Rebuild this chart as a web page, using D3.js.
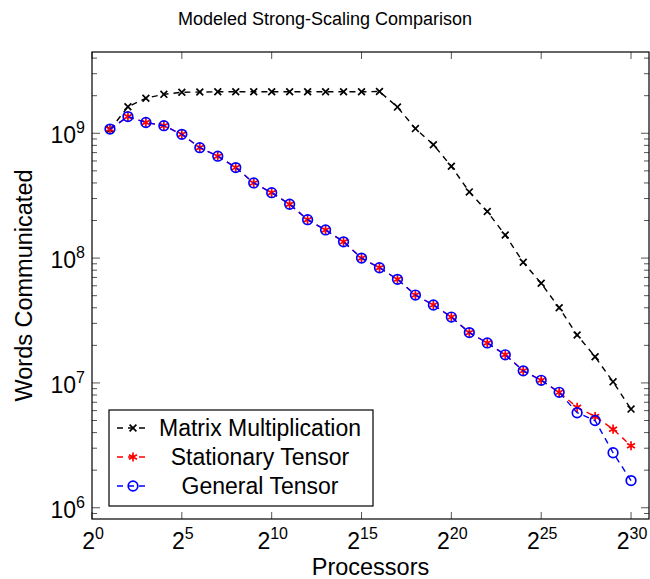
<!DOCTYPE html>
<meta charset="utf-8">
<script src="https://d3js.org/d3.v7.min.js"></script>
<style>
  body { margin: 0; background: #fff; }
  text { font-family: "Liberation Sans", Arial, Helvetica, sans-serif; fill: #000; }
</style>
<div id="chart"></div>
<script>

    // exponents of the processor counts (2^p)
    var procExp = [1, 2, 3, 4, 5, 6, 7, 8, 9, 10, 11, 12, 13, 14, 15,
                   16, 17, 18, 19, 20, 21, 22, 23, 24, 25, 26, 27, 28, 29, 30]

    // words communicated
    var matrixMult = [1.07e9, 1.63e9, 1.91e9, 2.05e9, 2.13e9, 2.14e9, 2.15e9, 2.15e9, 2.15e9, 2.15e9,
                      2.15e9, 2.15e9, 2.15e9, 2.15e9, 2.15e9, 2.16e9, 1.62e9, 1.09e9, 8.1e8, 5.44e8,
                      3.39e8, 2.36e8, 1.53e8, 9.25e7, 6.28e7, 4.0e7, 2.42e7, 1.62e7, 1.02e7, 6.17e6]
    var stationary = [1.08e9, 1.36e9, 1.22e9, 1.15e9, 9.8e8, 7.67e8, 6.55e8, 5.31e8, 4.0e8, 3.34e8,
                      2.70e8, 2.03e8, 1.68e8, 1.35e8, 1.0e8, 8.37e7, 6.76e7, 5.06e7, 4.21e7, 3.37e7,
                      2.53e7, 2.09e7, 1.68e7, 1.25e7, 1.05e7, 8.41e6, 6.37e6, 5.38e6, 4.26e6, 3.14e6]
    var general = [1.08e9, 1.36e9, 1.22e9, 1.15e9, 9.8e8, 7.67e8, 6.55e8, 5.31e8, 4.0e8, 3.34e8,
                   2.70e8, 2.03e8, 1.68e8, 1.35e8, 1.0e8, 8.37e7, 6.76e7, 5.06e7, 4.21e7, 3.37e7,
                   2.53e7, 2.09e7, 1.68e7, 1.25e7, 1.05e7, 8.41e6, 5.77e6, 5.0e6, 2.76e6, 1.65e6]

    var seriesNames = ["Matrix Multiplication", "Stationary Tensor", "General Tensor"]
    var xTickExp = [0, 5, 10, 15, 20, 25, 30]
    var yTickExp = [6, 7, 8, 9]

    var W = 650, H = 579
    var margin = {top: 52, right: 1, bottom: 60, left: 92}
    var width = W - margin.left - margin.right,
        height = H - margin.top - margin.bottom

    var svg = d3.select("#chart").append("svg")
        .attr("width", W).attr("height", H)

    var g = svg.append("g")
        .attr("transform", "translate(" + margin.left + "," + margin.top + ")")

    // scales
    var x = d3.scaleLinear().domain([0, 31]).range([0, width])
    var y = d3.scaleLog().domain([Math.pow(10, 5.91), Math.pow(10, 9.651)]).range([height, 0])

    // ---- ticks (inward, on all four sides) ----
    var tickCol = "#555"
    xTickExp.forEach(function(e) {
        g.append("line").attr("x1", x(e)).attr("x2", x(e)).attr("y1", height).attr("y2", height - 7)
            .attr("stroke", tickCol).attr("stroke-width", 1)
        g.append("line").attr("x1", x(e)).attr("x2", x(e)).attr("y1", 0).attr("y2", 7)
            .attr("stroke", tickCol).attr("stroke-width", 1)
        var t = g.append("text")
            .attr("x", x(e) + 1).attr("y", height + 30)
            .attr("text-anchor", "middle")
            .style("font-size", "23px")
        t.append("tspan").text("2")
        t.append("tspan").attr("dy", -10).style("font-size", "16px").text(e)
    })

    // minor and major ticks on the log axis
    var yMinor = []
    for (var d = 5; d <= 9; d++) {
        for (var k = 2; k <= 9; k++) {
            var v = k * Math.pow(10, d)
            if (v >= y.domain()[0] && v <= y.domain()[1]) yMinor.push(v)
        }
    }
    yMinor.forEach(function(v) {
        g.append("line").attr("x1", 0).attr("x2", 5).attr("y1", y(v)).attr("y2", y(v))
            .attr("stroke", tickCol).attr("stroke-width", 1)
        g.append("line").attr("x1", width).attr("x2", width - 5).attr("y1", y(v)).attr("y2", y(v))
            .attr("stroke", tickCol).attr("stroke-width", 1)
    })
    yTickExp.forEach(function(e) {
        var v = Math.pow(10, e)
        g.append("line").attr("x1", 0).attr("x2", 8).attr("y1", y(v)).attr("y2", y(v))
            .attr("stroke", tickCol).attr("stroke-width", 1)
        g.append("line").attr("x1", width).attr("x2", width - 8).attr("y1", y(v)).attr("y2", y(v))
            .attr("stroke", tickCol).attr("stroke-width", 1)
        var t = g.append("text")
            .attr("x", -7).attr("y", y(v) + 10)
            .attr("text-anchor", "end")
            .style("font-size", "23px")
        t.append("tspan").text("10")
        t.append("tspan").attr("dy", -10).style("font-size", "16px").text(e)
    })

    // frame
    g.append("rect").attr("width", width).attr("height", height)
        .attr("fill", "none").attr("stroke", "#000").attr("stroke-width", 1.2)

    // ---- markers ----
    function drawMarker(sel, type, color) {
        if (type === "cross") {
            var s = 3.4
            sel.append("path").attr("d", "M" + (-s) + "," + (-s) + "L" + s + "," + s + "M" + (-s) + "," + s + "L" + s + "," + (-s))
                .attr("stroke", color).attr("stroke-width", 1.7).attr("fill", "none")
        } else if (type === "star") {
            var r = 4.6, p = ""
            for (var a = 0; a < 3; a++) {
                var ang = Math.PI / 2 + a * Math.PI / 3
                p += "M" + (r * Math.cos(ang)) + "," + (r * Math.sin(ang)) + "L" + (-r * Math.cos(ang)) + "," + (-r * Math.sin(ang))
            }
            sel.append("path").attr("d", p).attr("stroke", color).attr("stroke-width", 1.7).attr("fill", "none")
        } else {
            sel.append("circle").attr("r", 4.8).attr("stroke", color).attr("stroke-width", 1.7).attr("fill", "none")
        }
    }

    var series = [
        {name: seriesNames[0], values: matrixMult, color: "#000000", marker: "cross"},
        {name: seriesNames[1], values: stationary, color: "#ff0000", marker: "star"},
        {name: seriesNames[2], values: general, color: "#0000ff", marker: "circle"}
    ]

    var line = d3.line()
        .x(function(d) { return x(d[0]) })
        .y(function(d) { return y(d[1]) })

    series.forEach(function(s) {
        var pts = procExp.map(function(p, i) { return [p, s.values[i]] })
        g.append("path").datum(pts)
            .attr("d", line)
            .attr("fill", "none")
            .attr("stroke", s.color)
            .attr("stroke-width", 1.4)
            .attr("stroke-dasharray", "6,5")
        pts.forEach(function(d) {
            var m = g.append("g").attr("transform", "translate(" + x(d[0]) + "," + y(d[1]) + ")")
            drawMarker(m, s.marker, s.color)
        })
    })

    // ---- legend ----
    var leg = svg.append("g").attr("transform", "translate(109,410)")
    leg.append("rect").attr("width", 264).attr("height", 96)
        .attr("fill", "#fff").attr("stroke", "#000").attr("stroke-width", 1.2)
    series.forEach(function(s, i) {
        var ly = 18 + i * 29
        leg.append("line").attr("x1", 8).attr("x2", 40).attr("y1", ly).attr("y2", ly)
            .attr("stroke", s.color).attr("stroke-width", 1.4).attr("stroke-dasharray", "6,5")
        var m = leg.append("g").attr("transform", "translate(24," + ly + ")")
        drawMarker(m, s.marker, s.color)
        leg.append("text").attr("x", 151).attr("y", ly + 8)
            .attr("text-anchor", "middle")
            .style("font-size", "23px")
            .text(s.name)
    })

    // ---- titles ----
    svg.append("text").attr("x", W / 2).attr("y", 25)
        .attr("text-anchor", "middle").style("font-size", "18px")
        .text("Modeled Strong-Scaling Comparison")
    svg.append("text").attr("x", margin.left + width / 2).attr("y", 575)
        .attr("text-anchor", "middle").style("font-size", "23.5px")
        .text("Processors")
    svg.append("text")
        .attr("transform", "translate(32," + (margin.top + height / 2) + ") rotate(-90)")
        .attr("text-anchor", "middle").style("font-size", "23.5px")
        .text("Words Communicated")

</script>
